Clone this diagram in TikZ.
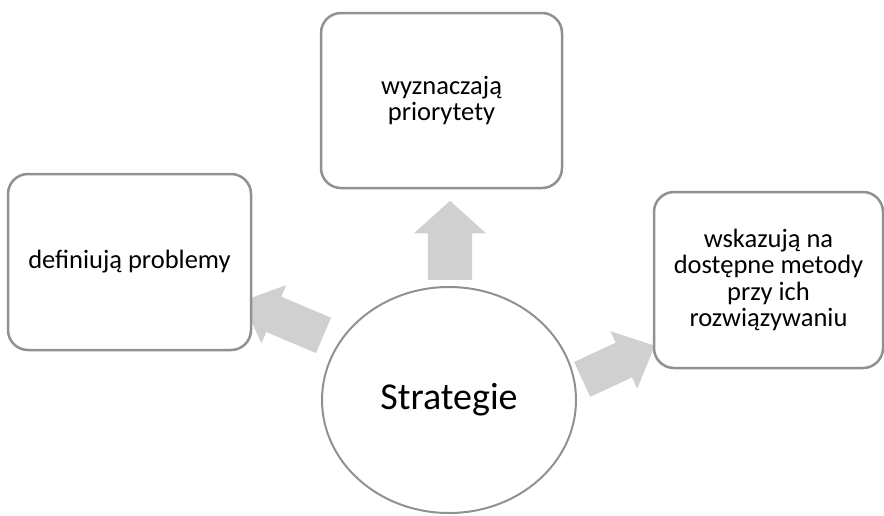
\documentclass[tikz,border=0pt]{standalone}
\usepackage{fontspec}
\setmainfont{Carlito}
\usetikzlibrary{shapes.geometric,shapes.arrows}
\definecolor{linegray}{RGB}{145,145,145}
\definecolor{arrowgray}{RGB}{208,208,208}

\begin{document}
\begin{tikzpicture}[x=1pt,y=1pt,line join=round]
\tikzset{every node/.style={font=\fontsize{26.5}{26.5}\selectfont},
box/.style={draw=linegray,line width=2.5pt,fill=white,rounded corners=20pt,align=center,inner sep=0pt},
fatarrow/.style={single arrow,fill=arrowgray,inner xsep=0pt,anchor=tail}}
\useasboundingbox (0,0) rectangle (884,-515);
% arrows first, the boxes lie on top of them
\node[fatarrow,minimum height=79,inner ysep=22,single arrow head extend=14,single arrow tip angle=96,rotate=90] (up) at (450,-280) {};
\node[fatarrow,minimum height=88,inner ysep=19,single arrow head extend=12.5,single arrow tip angle=86,rotate=157] (left) at (323.7,-335.5) {};
\node[fatarrow,minimum height=80,inner ysep=19,single arrow head extend=12.5,single arrow tip angle=86,rotate=25] (right) at (582,-379.5) {};
% boxes
\node[box,minimum width=241,minimum height=175] (prio) at (441.5,-100.5) {wyznaczają\\priorytety};
\node[box,minimum width=243,minimum height=176] (prob) at (129.5,-262) {definiują problemy};
\node[box,minimum width=229,minimum height=176] (meto) at (768.5,-280) {wskazują na\\dostępne metody\\przy ich\\rozwiązywaniu};
% centre
\node[ellipse,draw=linegray,line width=2pt,fill=white,minimum width=254,minimum height=226,font=\fontsize{38}{40}\selectfont] (strat) at (449,-400) {Strategie};
\end{tikzpicture}
\end{document}
